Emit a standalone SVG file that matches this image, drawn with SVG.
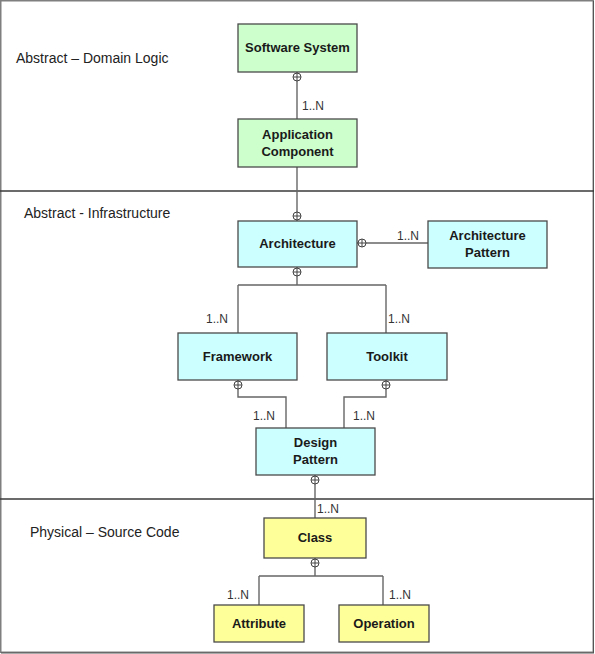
<svg xmlns="http://www.w3.org/2000/svg" width="595" height="654" viewBox="0 0 595 654">
<defs>
<style>
.frame{fill:#fff;stroke:#7f7f7f;stroke-width:1.5}
.sep{stroke:#3a3a3a;stroke-width:1.6}
.box{stroke:#4a4a4a;stroke-width:1.3}
.g{fill:#ccffcc}.c{fill:#ccffff}.y{fill:#ffff99}
.nt{font-family:"Liberation Sans",Arial,sans-serif;font-size:13px;font-weight:bold;fill:#1a1a1a;text-anchor:middle}
.lt{font-family:"Liberation Sans",Arial,sans-serif;font-size:14px;fill:#222}
.ml{font-family:"Liberation Sans",Arial,sans-serif;font-size:12px;fill:#333}
.conn{fill:none;stroke:#666;stroke-width:1.4}
</style>
<g id="op">
<circle cx="0" cy="0" r="4" fill="#fff" stroke="#444" stroke-width="1"/>
<path d="M-4 0H4M0 -4V4" stroke="#444" stroke-width="1"/>
</g>
</defs>
<rect class="frame" x="0.75" y="0.75" width="592.5" height="651.5"/>
<line x1="593.5" y1="1" x2="593.5" y2="653" stroke="#555" stroke-width="1"/>
<line x1="1" y1="653" x2="594" y2="653" stroke="#555" stroke-width="1"/>
<line class="sep" x1="0" y1="191" x2="594" y2="191"/>
<line class="sep" x1="0" y1="499" x2="594" y2="499"/>
<g id="layer-labels">
<text class="lt" x="16" y="63">Abstract – Domain Logic</text>
<text class="lt" x="24" y="218">Abstract - Infrastructure</text>
<text class="lt" x="30" y="537">Physical – Source Code</text>
</g>
<g id="connectors">
<path class="conn" d="M297 72V119"/>
<path class="conn" d="M297 167V221"/>
<path class="conn" d="M357 243H428"/>
<path class="conn" d="M297 267V285M238 285H386M238 285V333M386 285V333"/>
<path class="conn" d="M238 380V397H286V428"/>
<path class="conn" d="M386 380V397H344V428"/>
<path class="conn" d="M315 475V518"/>
<path class="conn" d="M315 558V576M259 576H383M259 576V605M383 576V605"/>
<use href="#op" x="297" y="77"/>
<use href="#op" x="297" y="216"/>
<use href="#op" x="362" y="243"/>
<use href="#op" x="297" y="272"/>
<use href="#op" x="238" y="385"/>
<use href="#op" x="386" y="385"/>
<use href="#op" x="315" y="480"/>
<use href="#op" x="315" y="563"/>
<text class="ml" x="302" y="110">1..N</text>
<text class="ml" x="397" y="240">1..N</text>
<text class="ml" x="206" y="323">1..N</text>
<text class="ml" x="388" y="323">1..N</text>
<text class="ml" x="253" y="420">1..N</text>
<text class="ml" x="353" y="420">1..N</text>
<text class="ml" x="317" y="513">1..N</text>
<text class="ml" x="227" y="599">1..N</text>
<text class="ml" x="389" y="599">1..N</text>
</g>
<g id="software-system"><rect class="box g" x="238" y="24" width="119" height="48"/><text class="nt" x="297.5" y="52">Software System</text></g>
<g id="application-component"><rect class="box g" x="238" y="119" width="119" height="48"/><text class="nt" x="297.5" y="139">Application</text><text class="nt" x="297.5" y="156">Component</text></g>
<g id="architecture"><rect class="box c" x="238" y="221" width="119" height="46"/><text class="nt" x="297.5" y="248">Architecture</text></g>
<g id="architecture-pattern"><rect class="box c" x="428" y="221" width="119" height="47"/><text class="nt" x="487.5" y="240">Architecture</text><text class="nt" x="487.5" y="257">Pattern</text></g>
<g id="framework"><rect class="box c" x="178" y="333" width="119" height="47"/><text class="nt" x="237.5" y="361">Framework</text></g>
<g id="toolkit"><rect class="box c" x="327" y="333" width="120" height="47"/><text class="nt" x="387" y="361">Toolkit</text></g>
<g id="design-pattern"><rect class="box c" x="256" y="428" width="119" height="47"/><text class="nt" x="315.5" y="447">Design</text><text class="nt" x="315.5" y="464">Pattern</text></g>
<g id="class"><rect class="box y" x="264" y="518" width="102" height="40"/><text class="nt" x="315" y="542">Class</text></g>
<g id="attribute"><rect class="box y" x="214" y="605" width="90" height="37"/><text class="nt" x="259" y="628">Attribute</text></g>
<g id="operation"><rect class="box y" x="339" y="605" width="90" height="37"/><text class="nt" x="384" y="628">Operation</text></g>
</svg>
